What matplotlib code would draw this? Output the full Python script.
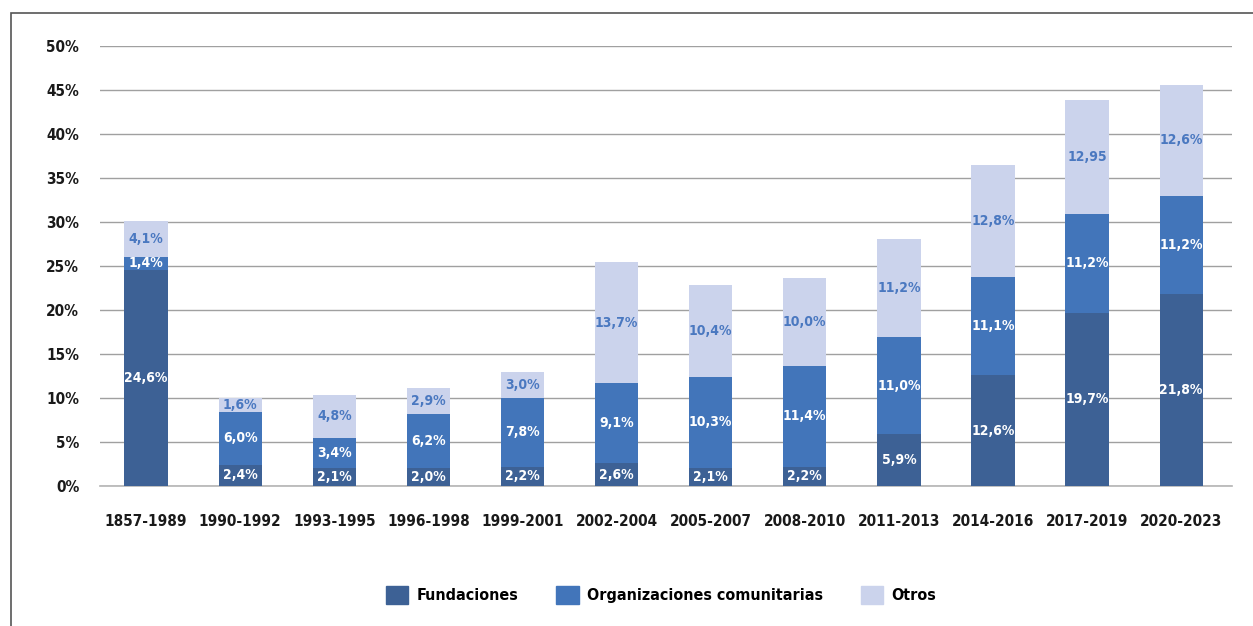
import matplotlib
matplotlib.use("Agg")
import matplotlib.pyplot as plt
from matplotlib.patches import Rectangle, Patch
from matplotlib import font_manager as fm
import numpy as np

categories = ["1857-1989", "1990-1992", "1993-1995", "1996-1998", "1999-2001",
              "2002-2004", "2005-2007", "2008-2010", "2011-2013", "2014-2016",
              "2017-2019", "2020-2023"]
fundaciones = [24.6, 2.4, 2.1, 2.0, 2.2, 2.6, 2.1, 2.2, 5.9, 12.6, 19.7, 21.8]
organizaciones = [1.4, 6.0, 3.4, 6.2, 7.8, 9.1, 10.3, 11.4, 11.0, 11.1, 11.2, 11.2]
otros = [4.1, 1.6, 4.8, 2.9, 3.0, 13.7, 10.4, 10.0, 11.2, 12.8, 12.95, 12.6]
labels_fund = ["24,6%", "2,4%", "2,1%", "2,0%", "2,2%", "2,6%", "2,1%", "2,2%", "5,9%", "12,6%", "19,7%", "21,8%"]
labels_org = ["1,4%", "6,0%", "3,4%", "6,2%", "7,8%", "9,1%", "10,3%", "11,4%", "11,0%", "11,1%", "11,2%", "11,2%"]
labels_otr = ["4,1%", "1,6%", "4,8%", "2,9%", "3,0%", "13,7%", "10,4%", "10,0%", "11,2%", "12,8%", "12,95", "12,6%"]
series_names = ["Fundaciones", "Organizaciones comunitarias", "Otros"]
yticks = [0, 5, 10, 15, 20, 25, 30, 35, 40, 45, 50]

c_dark = "#3D6195"
c_mid = "#4275BA"
c_light = "#CBD3EC"
c_light_txt = "#4A78C0"

plt.rcParams["font.family"] = ["DejaVu Sans"]
STRETCH = "condensed"

W, H = 1253, 626
fig = plt.figure(figsize=(W / 100, H / 100), dpi=100)
ax = fig.add_axes([100 / W, (H - 486) / H, (1232 - 100) / W, (486 - 46) / H])

x = np.arange(len(categories))
f = np.array(fundaciones)
o = np.array(organizaciones)
t = np.array(otros)
bw = 0.46
ax.bar(x, f, bw, color=c_dark, zorder=3)
ax.bar(x, o, bw, bottom=f, color=c_mid, zorder=3)
ax.bar(x, t, bw, bottom=f + o, color=c_light, zorder=3)

fs = 10
kw = dict(ha="center", va="center", fontsize=fs, fontweight="bold", fontstretch=STRETCH, zorder=4)
for i in range(len(x)):
    ax.text(x[i], f[i] / 2, labels_fund[i], color="white", **kw)
    ax.text(x[i], f[i] + o[i] / 2, labels_org[i], color="white", **kw)
    ax.text(x[i], f[i] + o[i] + t[i] / 2, labels_otr[i], color=c_light_txt, **kw)

ax.set_xlim(-0.49, 11.54)
ax.set_ylim(0, 50)
ax.set_yticks(yticks)
ax.set_yticklabels([f"{v}%" for v in yticks])
ax.set_xticks(x)
ax.set_xticklabels(categories)
ax.yaxis.grid(True, color="#A0A0A0", linewidth=1.0, zorder=0)
ax.axhline(0, color="#B4B4B4", linewidth=1.2, zorder=2, clip_on=False)
ax.set_axisbelow(True)
for s in ax.spines.values():
    s.set_visible(False)
ax.tick_params(axis="both", length=0, labelsize=11, colors="#1A1A1A")
ax.tick_params(axis="y", pad=15)
ax.tick_params(axis="x", pad=20)
for lab in ax.get_xticklabels() + ax.get_yticklabels():
    lab.set_fontweight("bold")
    lab.set_fontstretch(STRETCH)

handles = [Patch(color=c_dark), Patch(color=c_mid), Patch(color=c_light)]
fig.legend(handles, series_names, loc="center", bbox_to_anchor=(661 / W, (H - 595) / H),
           ncol=3, frameon=False, handlelength=1.4, handleheight=1.4, handletextpad=0.5,
           columnspacing=2.4,
           prop=fm.FontProperties(family="DejaVu Sans", size=11.5, weight="bold", stretch=STRETCH))

fig.patches.append(Rectangle((11 / W, -0.1), 1.2, (H - 13) / H + 0.1,
                             transform=fig.transFigure, fill=False,
                             edgecolor="#555555", linewidth=1.2))

fig.savefig("out.png", dpi=100)
